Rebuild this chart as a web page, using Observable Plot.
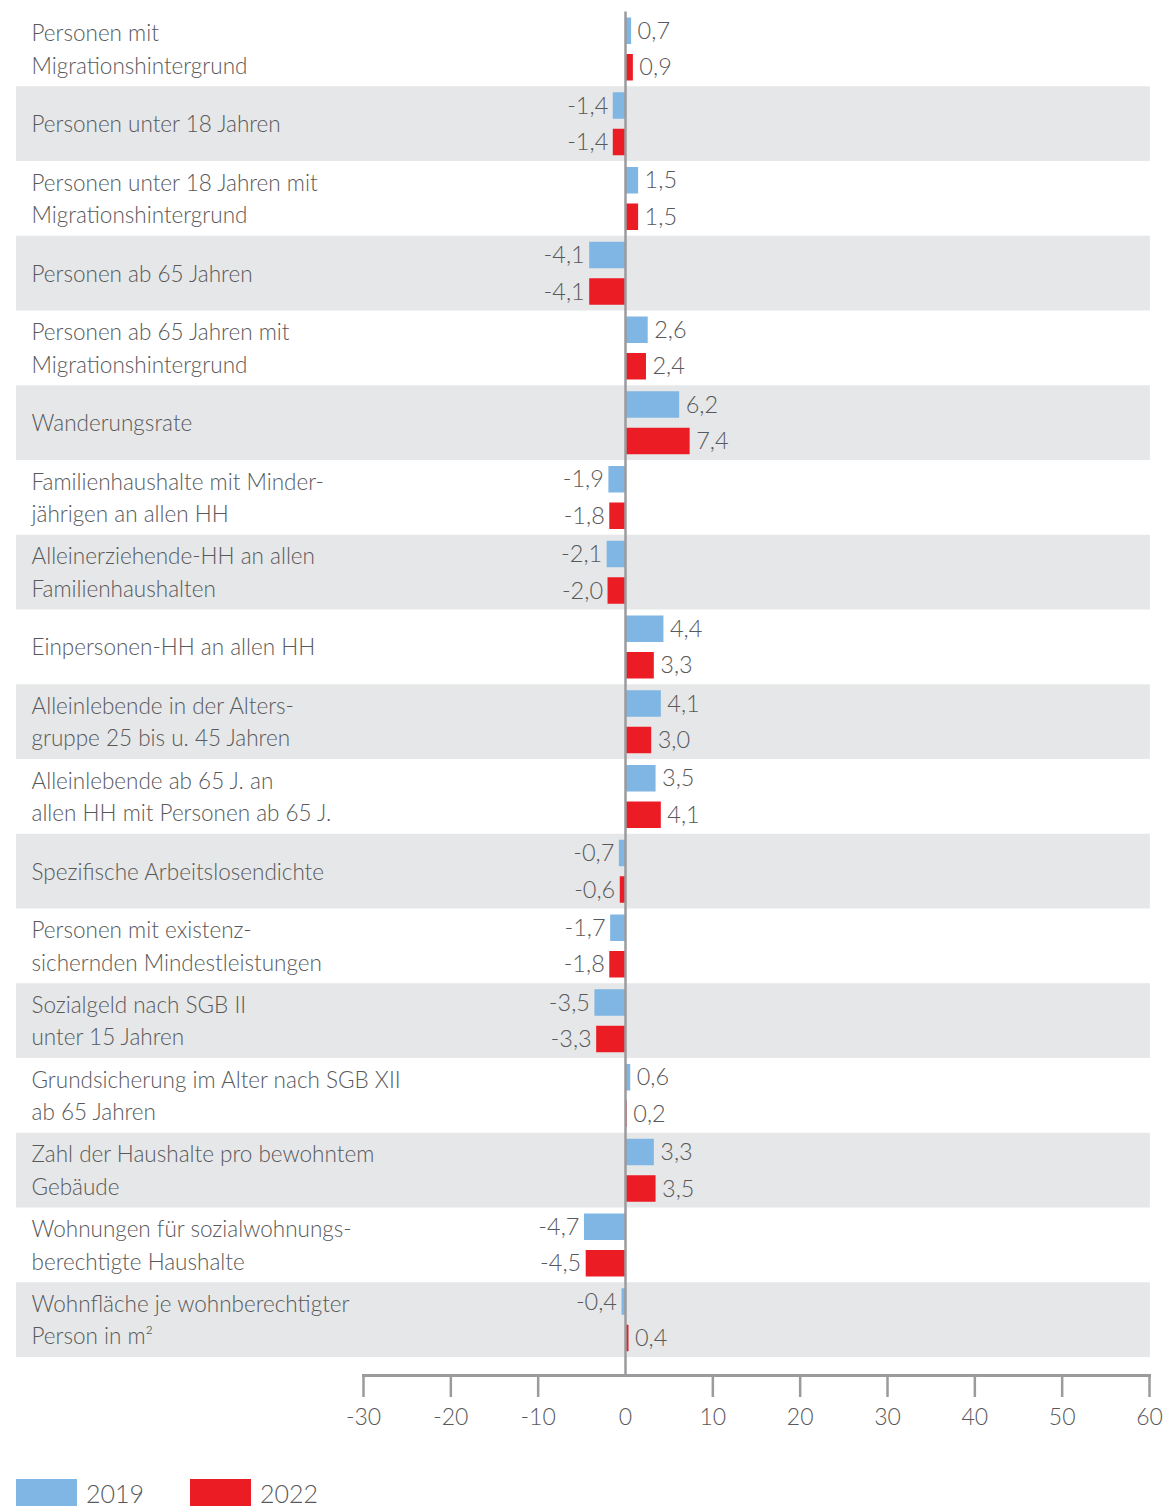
<!DOCTYPE html>
<html>
<head>
<meta charset="utf-8">
<script src="https://cdn.jsdelivr.net/npm/d3@7"></script>
<script src="https://cdn.jsdelivr.net/npm/@observablehq/plot@0.6"></script>
<style>
  html, body { margin: 0; padding: 0; background: #fff; }
  body { width: 1168px; font-family: Lato, "Open Sans", sans-serif; font-weight: 300; color: #58595b; }
  #chart svg { display: block; }
  .legend { display: flex; align-items: center; margin-left: 16px; margin-top: 28px; font-size: 25px; }
  .legend .item { display: flex; align-items: center; margin-right: 46px; }
  .legend .sw { width: 61px; height: 28px; margin-right: 9px; }
</style>
</head>
<body>
<div id="chart"></div>
<div class="legend" id="legend"></div>
<script>
// ---- data ----
const categories = [
  "Personen mit\nMigrationshintergrund",
  "Personen unter 18 Jahren",
  "Personen unter 18 Jahren mit\nMigrationshintergrund",
  "Personen ab 65 Jahren",
  "Personen ab 65 Jahren mit\nMigrationshintergrund",
  "Wanderungsrate",
  "Familienhaushalte mit Minder-\njährigen an allen HH",
  "Alleinerziehende-HH an allen\nFamilienhaushalten",
  "Einpersonen-HH an allen HH",
  "Alleinlebende in der Alters-\ngruppe 25 bis u. 45 Jahren",
  "Alleinlebende ab 65 J. an\nallen HH mit Personen ab 65 J.",
  "Spezifische Arbeitslosendichte",
  "Personen mit existenz-\nsichernden Mindestleistungen",
  "Sozialgeld nach SGB II\nunter 15 Jahren",
  "Grundsicherung im Alter nach SGB XII\nab 65 Jahren",
  "Zahl der Haushalte pro bewohntem\nGebäude",
  "Wohnungen für sozialwohnungs-\nberechtigte Haushalte",
  "Wohnfläche je wohnberechtigter\nPerson in m²"
];
const values2019 = [0.7, -1.4, 1.5, -4.1, 2.6, 6.2, -1.9, -2.1, 4.4, 4.1, 3.5, -0.7, -1.7, -3.5, 0.6, 3.3, -4.7, -0.4];
const values2022 = [0.9, -1.4, 1.5, -4.1, 2.4, 7.4, -1.8, -2.0, 3.3, 3.0, 4.1, -0.6, -1.8, -3.3, 0.2, 3.5, -4.5, 0.4];
const years = ["2019", "2022"];
const xTicks = [-30, -20, -10, 0, 10, 20, 30, 40, 50, 60];

// ---- styles ----
const blue = "#7fb6e3";
const red = "#ec1c24";
const band = "#e6e7e8";
const textColor = "#58595b";
const axisColor = "#9b9b9e";
const bandExtent = [-69.73, 60.1];
const rowH = 1345.5 / 18;

const d19 = categories.map((c, i) => ({cat: c, year: "2019", value: values2019[i]}));
const d22 = categories.map((c, i) => ({cat: c, year: "2022", value: values2022[i]}));
const bands = categories.filter((c, i) => i % 2 === 1);
const fmt = v => v.toFixed(1).replace(".", ",");

const barH = 26.5;
const top19 = 6, top22 = 42.5;

function labelMarks(data, dy) {
  return [
    Plot.text(data.filter(d => d.value >= 0), {
      y: "cat", x: "value", text: d => fmt(d.value), dx: 6, dy, textAnchor: "start",
      fill: textColor, fontSize: 23.5, style: "letter-spacing:1px"
    }),
    Plot.text(data.filter(d => d.value < 0), {
      y: "cat", x: "value", text: d => fmt(d.value), dx: -5, dy, textAnchor: "end",
      fill: textColor, fontSize: 23.5, style: "letter-spacing:1px"
    })
  ];
}

const chart = Plot.plot({
  width: 1168,
  height: 1450,
  marginLeft: 363,
  marginRight: 19,
  marginTop: 11.5,
  marginBottom: 75,
  style: {fontFamily: "Lato, 'Open Sans', sans-serif", fontWeight: 300, color: textColor, background: "white"},
  x: {domain: [-30, 60], axis: null, label: null},
  y: {domain: categories, range: [11.5, 1357], padding: 0, round: false, axis: null},
  marks: [
    Plot.barX(bands, {y: d => d, x1: bandExtent[0], x2: bandExtent[1], fill: band}),
    Plot.text(categories, {
      y: d => d, frameAnchor: "left", dx: -332, dy: -2.5, textAnchor: "start",
      lineHeight: 1.45, fontSize: 22.5, fill: textColor
    }),
    Plot.barX(d19, {y: "cat", x1: 0, x2: "value", fill: blue, insetTop: top19, insetBottom: rowH - top19 - barH}),
    Plot.barX(d22, {y: "cat", x1: 0, x2: "value", fill: red, insetTop: top22, insetBottom: rowH - top22 - barH}),
    ...labelMarks(d19, top19 + barH / 2 - rowH / 2),
    ...labelMarks(d22, top22 + barH / 2 - rowH / 2),
    Plot.ruleX([0], {stroke: axisColor, strokeWidth: 2.5}),
    Plot.frame({anchor: "bottom", stroke: axisColor, strokeWidth: 3}),
    Plot.axisX(xTicks.filter(t => t !== 0), {tickSize: 22, tickFormat: () => "", label: null, stroke: axisColor, strokeWidth: 2.5}),
    Plot.axisX(xTicks, {tickSize: 0, tickPadding: 42, label: null, tickFormat: d => String(d), fontSize: 23, fill: textColor, lineAnchor: "middle"})
  ]
});
document.getElementById("chart").appendChild(chart);

const legend = document.getElementById("legend");
[[years[0], blue], [years[1], red]].forEach(([label, color]) => {
  const item = document.createElement("div");
  item.className = "item";
  const sw = document.createElement("div");
  sw.className = "sw";
  sw.style.background = color;
  const t = document.createElement("span");
  t.textContent = label;
  item.appendChild(sw);
  item.appendChild(t);
  legend.appendChild(item);
});
</script>
</body>
</html>
